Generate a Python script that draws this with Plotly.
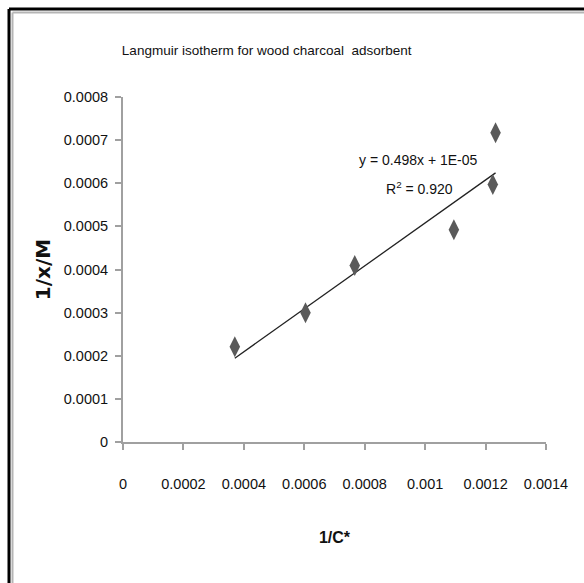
import plotly.graph_objects as go

# Data
inv_c = [0.00037, 0.000604, 0.000767, 0.001095, 0.001224, 0.001233]
inv_xm = [0.000221, 0.000300, 0.000409, 0.000492, 0.000597, 0.000717]

slope = 0.498
intercept = 1e-05
eq_text = "y = 0.498x + 1E-05"
r2_text = "R<sup>2</sup> = 0.920"

x_ticks = [0, 0.0002, 0.0004, 0.0006, 0.0008, 0.001, 0.0012, 0.0014]
x_ticklabels = ["0", "0.0002", "0.0004", "0.0006", "0.0008", "0.001", "0.0012", "0.0014"]
y_ticks = [0, 0.0001, 0.0002, 0.0003, 0.0004, 0.0005, 0.0006, 0.0007, 0.0008]
y_ticklabels = ["0", "0.0001", "0.0002", "0.0003", "0.0004", "0.0005", "0.0006", "0.0007", "0.0008"]

FONT = "Liberation Sans, Arial, sans-serif"

W, H = 584, 583
ML, MR, MT, MB = 123, 38, 97, 141
PW = W - ML - MR
PH = H - MT - MB


def px_x(px):
    return (px - ML) / PW


def px_y(py):
    return (H - MB - py) / PH


x_line = [min(inv_c), max(inv_c)]
y_line = [slope * v + intercept for v in x_line]

fig = go.Figure()
fig.add_trace(go.Scatter(
    x=x_line, y=y_line, mode="lines",
    line=dict(color="#222222", width=1.3), showlegend=False, hoverinfo="skip"))
fig.add_trace(go.Scatter(
    x=inv_c, y=inv_xm, mode="markers",
    marker=dict(symbol="diamond-tall", size=15, color="#5a5a5a"),
    showlegend=False))

fig.update_layout(
    width=W, height=H,
    margin=dict(l=ML, r=MR, t=MT, b=MB),
    paper_bgcolor="white", plot_bgcolor="white",
    font=dict(family=FONT, size=14.5, color="#111111"),
    title=dict(text="Langmuir isotherm for wood charcoal  adsorbent",
               x=266.7 / W, xanchor="center", y=1 - 50 / H, yanchor="middle",
               font=dict(family=FONT, size=13.5, color="#111111")),
    xaxis=dict(range=[0, 0.0014], tickvals=x_ticks, ticktext=x_ticklabels,
               showgrid=False, zeroline=False, showline=True, linecolor="#a0a0a0",
               linewidth=2, ticks="outside", ticklen=6, tickcolor="#a0a0a0",
               tickwidth=1.5, ticklabelstandoff=22,
               title=dict(text="<b>1/C*</b>", standoff=40,
                          font=dict(family=FONT, size=16))),
    yaxis=dict(range=[0, 0.0008], tickvals=y_ticks, ticktext=y_ticklabels,
               showgrid=False, zeroline=False, showline=True, linecolor="#a0a0a0",
               linewidth=2, ticks="outside", ticklen=6, tickcolor="#a0a0a0",
               tickwidth=1.5, ticklabelstandoff=4,
               title=dict(text="<b>1/x/M</b>", standoff=8,
                          font=dict(family="DejaVu Sans, sans-serif", size=20))),
)

fig.add_annotation(x=px_x(480), y=px_y(160), xref="paper", yref="paper", text=eq_text,
                   showarrow=False, xanchor="right", yanchor="middle",
                   font=dict(family=FONT, size=14, color="#111111"))
fig.add_annotation(x=px_x(455), y=px_y(188), xref="paper", yref="paper", text=r2_text,
                   showarrow=False, xanchor="right", yanchor="middle",
                   font=dict(family=FONT, size=14, color="#111111"))

# Outer frame (black line with gray inner line)
frame = [
    dict(x0=9, y0=9, x1=9, y1=H, color="black", w=3),
    dict(x0=9, y0=9, x1=W, y1=9, color="black", w=3),
    dict(x0=12.5, y0=12.5, x1=12.5, y1=H, color="#b5b5b5", w=2),
    dict(x0=12.5, y0=12.5, x1=W, y1=12.5, color="#b5b5b5", w=2),
]
for f in frame:
    fig.add_shape(type="line", xref="paper", yref="paper",
                  x0=px_x(f["x0"]), x1=px_x(f["x1"]),
                  y0=px_y(f["y0"]), y1=px_y(f["y1"]),
                  line=dict(color=f["color"], width=f["w"]))

fig.write_html("out.html")
